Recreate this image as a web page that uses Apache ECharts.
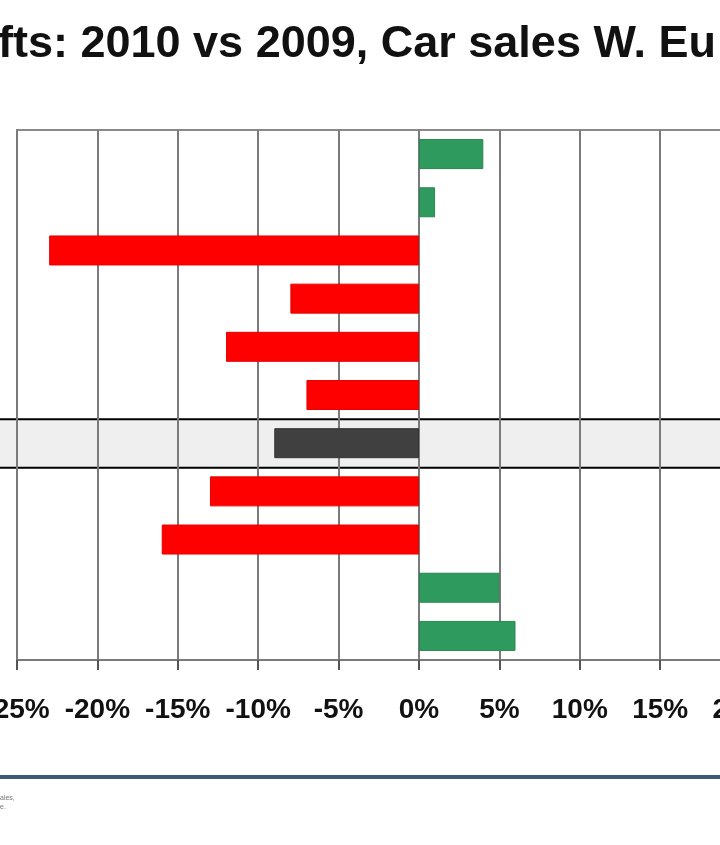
<!DOCTYPE html>
<html><head><meta charset="utf-8">
<script src="https://cdn.jsdelivr.net/npm/echarts@6/dist/echarts.min.js"></script>
<style>html,body{margin:0;padding:0;background:#fff}#c{width:720px;height:845px}</style>
</head><body><div id="c"></div>
<script>
// Data read from the (cropped) reference
const categories = ['1', '2', '3', '4', '5', '6', 'Market', '8', '9', '10', '11'];
const changes = [4, 1, -23, -8, -12, -7, -9, -13, -16, 5, 6]; // % change 2010 vs 2009
const highlightIndex = 6; // highlighted (market) row
const xMin = -25, xMax = 25, xStep = 5;
const titleText = 'fts: 2010 vs 2009, Car sales W. Eu';
const footnote = 'ales,\ne.';

const FONT = '"Liberation Sans", Arial, Helvetica, sans-serif';
const chart = echarts.init(document.getElementById('c'), null, {renderer: 'canvas'});

chart.setOption({
  animation: false,
  backgroundColor: '#ffffff',
  title: {
    text: titleText, left: -7, top: 17,
    textStyle: {fontFamily: FONT, fontWeight: 'bold', fontSize: 45, color: '#111'}
  },
  grid: [
    {left: 17, right: -101, top: 130, bottom: 185, containLabel: false, outerBoundsMode: 'none',
     show: true, borderColor: '#8a8a8a', borderWidth: 2, backgroundColor: 'transparent'},
    {left: -4, right: -4, top: 128, bottom: 183, containLabel: false, outerBoundsMode: 'none'}
  ],
  xAxis: [
    {
      gridIndex: 0, type: 'value', min: xMin, max: xMax, interval: xStep,
      axisLine: {show: true, lineStyle: {color: '#7a7a7a', width: 2}},
      axisTick: {show: true, length: 10, lineStyle: {color: '#555', width: 2}},
      axisLabel: {formatter: '{value}%', fontFamily: FONT, fontWeight: 'bold', fontSize: 28, color: '#111', margin: 36, hideOverlap: false},
      splitLine: {show: true, lineStyle: {color: '#7a7a7a', width: 2}}
    },
    {gridIndex: 1, type: 'value', min: 0, max: 1, show: false}
  ],
  yAxis: [
    {gridIndex: 0, type: 'category', data: categories, inverse: true,
     axisLine: {show: false}, axisTick: {show: false}, axisLabel: {show: false}, splitLine: {show: false}},
    {gridIndex: 1, type: 'category', data: categories, inverse: true, show: false}
  ],
  series: [
    {
      type: 'bar', xAxisIndex: 1, yAxisIndex: 1, silent: true, z: -1,
      barWidth: '104%',
      data: categories.map((c, i) => i === highlightIndex ? 1 : null),
      itemStyle: {color: '#efefef', borderColor: '#000', borderWidth: 2}
    },
    {
      type: 'bar', xAxisIndex: 0, yAxisIndex: 0, barWidth: 30,
      data: changes.map((v, i) => ({
        value: v,
        itemStyle: {
          color: i === highlightIndex ? '#404040' : (v >= 0 ? '#2e9a5e' : '#ff0000'),
          borderColor: i === highlightIndex ? '#333' : (v >= 0 ? '#2a8552' : '#e80000'),
          borderWidth: 1
        }
      }))
    }
  ],
  graphic: [
    {type: 'line', shape: {x1: 0, y1: 777, x2: 720, y2: 777}, style: {stroke: '#3b5b78', lineWidth: 4}},
    {type: 'text', left: 0, top: 794, style: {text: footnote, fontSize: 7, fill: '#777', fontFamily: FONT, lineHeight: 9}}
  ]
});
</script></body></html>
